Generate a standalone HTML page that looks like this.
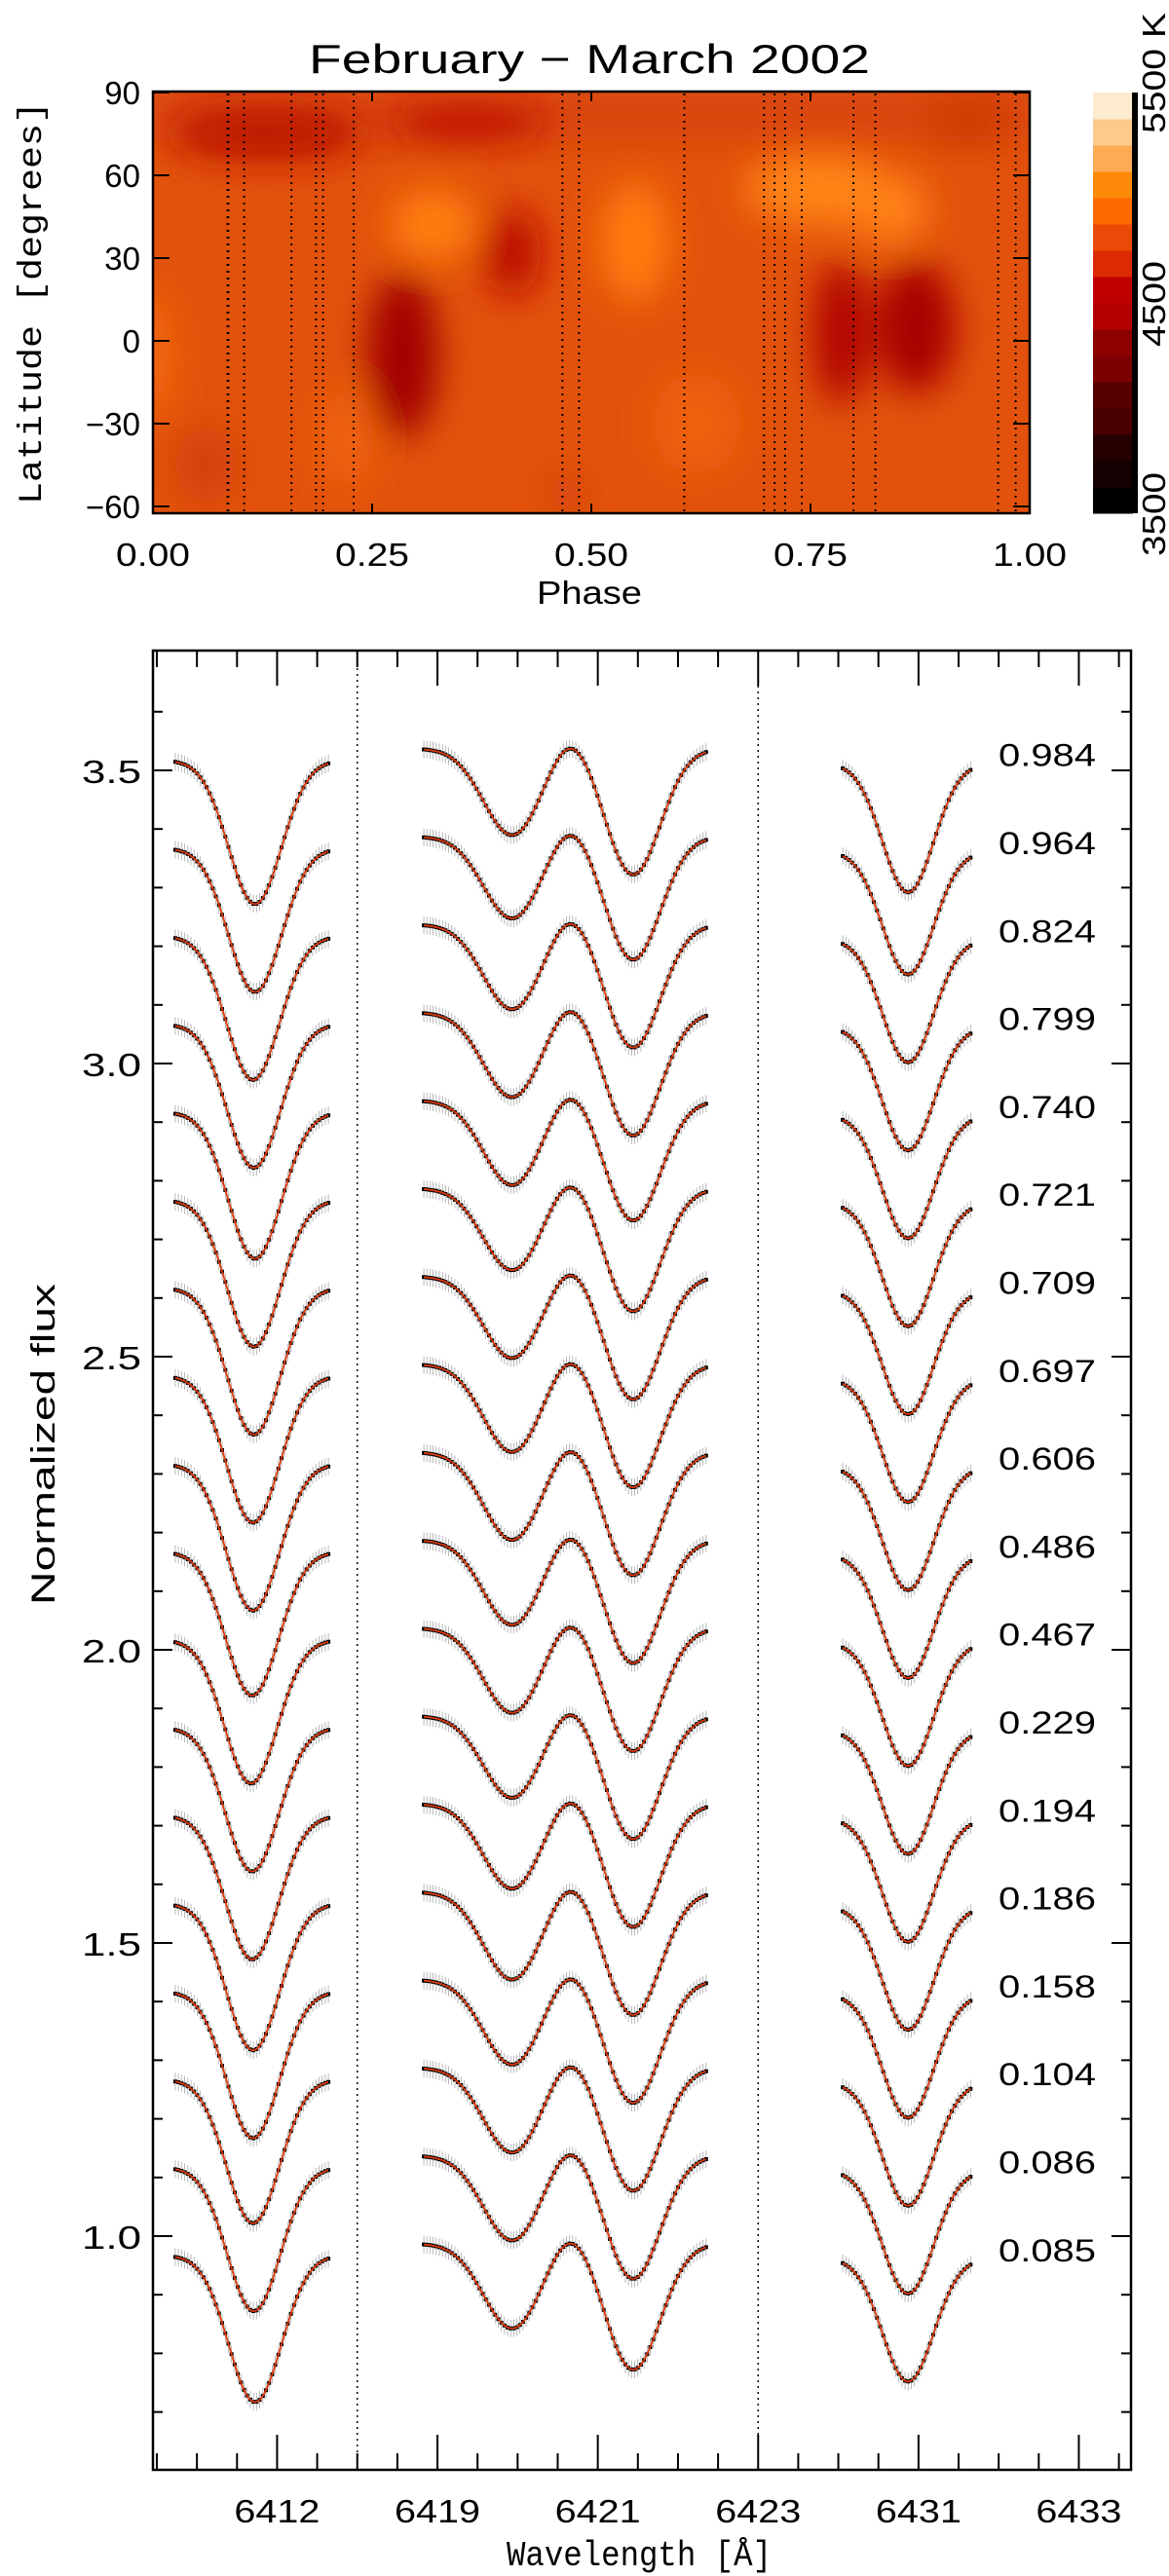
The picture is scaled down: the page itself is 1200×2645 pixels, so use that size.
<!DOCTYPE html>
<html><head><meta charset="utf-8"><style>
html,body{margin:0;padding:0;background:#fff;}
svg{display:block;}
text{font-family:"Liberation Sans",sans-serif;fill:#000;}
.mono{font-family:"Liberation Mono",monospace;}
</style></head><body>
<svg id="fig" width="1200" height="2645" viewBox="0 0 1200 2645" xmlns="http://www.w3.org/2000/svg">
<defs>
<filter id="blur" x="-50%" y="-50%" width="200%" height="200%"><feGaussianBlur stdDeviation="18"/></filter>
<clipPath id="mapclip"><rect x="157" y="94" width="900" height="433"/></clipPath>
</defs>
<g id="map"></g>
<g id="cbar"></g>
<g id="spec"></g>
</svg>
<script>
const NS="http://www.w3.org/2000/svg";
// ---------- map data ----------
const phaseValues=[0.085,0.086,0.104,0.158,0.186,0.194,0.229,0.467,0.486,0.606,0.697,0.709,0.721,0.740,0.799,0.824,0.964,0.984];
const latTicks=[90,60,30,0,-30,-60];
const latTickLabels=["90","60","30","0","\u221230","\u221260"];
const phaseTicks=[0,0.25,0.5,0.75,1];
const phaseTickLabels=["0.00","0.25","0.50","0.75","1.00"];
const spotPhase=[0.13,0.36,0.93,0.285,0.785,0.87,0.41,0.32,0.55,0.76,0.84,0.0,0.06,0.22,0.62,0.47];
const spotLat=[75,79,80,-5,3,5,32,42,36,55,48,-5,-45,-35,-30,-55];
const spotW=[0.11,0.09,0.05,0.04,0.03,0.045,0.033,0.05,0.04,0.085,0.045,0.02,0.035,0.03,0.05,0.02];
const spotH=[10,7,8,30,26,24,16,13,22,13,13,22,14,18,18,8];
const spotColor=["#bd1200","#c01500","#d03a05","#a00000","#ad0600","#a80000","#bb1000","#ff7e10","#ff7c0c","#ff8412","#ff8012","#f66c0a","#d43f08","#f0640c","#f0600a","#d4420a"];
const cbarColors=["#000000","#140000","#240000","#480000","#540000","#7c0000","#8c0000","#b40000","#c00000","#dc2a02","#ea4a08","#fd6a00","#fd8a08","#fdab55","#fdca8a","#fdebd0"];
// ---------- spectra data (bottom to top) ----------
const specLabels=["0.085","0.086","0.104","0.158","0.186","0.194","0.229","0.467","0.486","0.606","0.697","0.709","0.721","0.740","0.799","0.824","0.964","0.984"];
const continuum=[0.967,1.117,1.267,1.417,1.567,1.717,1.867,2.017,2.167,2.317,2.467,2.617,2.767,2.917,3.067,3.217,3.367,3.517];
const depthL=[0.25,0.245,0.245,0.25,0.25,0.245,0.245,0.245,0.245,0.25,0.25,0.25,0.25,0.25,0.245,0.245,0.245,0.245];
const centerL=[2.45,2.42,2.40,2.40,2.40,2.38,2.38,2.35,2.38,2.40,2.40,2.42,2.42,2.45,2.42,2.40,2.45,2.45];
const depthM1=[0.145,0.145,0.145,0.145,0.15,0.145,0.14,0.145,0.145,0.15,0.15,0.14,0.14,0.145,0.145,0.145,0.14,0.148];
const depthM2=[0.215,0.21,0.21,0.21,0.21,0.21,0.21,0.21,0.21,0.21,0.21,0.21,0.21,0.205,0.21,0.21,0.21,0.215];
const depthR=[0.21,0.21,0.21,0.21,0.21,0.21,0.21,0.21,0.21,0.21,0.21,0.21,0.21,0.21,0.21,0.21,0.21,0.22];
const yTickLabels=["1.0","1.5","2.0","2.5","3.0","3.5"];
const yTickValues=[1.0,1.5,2.0,2.5,3.0,3.5];
const xTickLabels=["6412","6419","6421","6423","6431","6433"];
const xTickUnits=[3,7,11,15,19,23];

function el(tag,attrs,parent){const e=document.createElementNS(NS,tag);for(const k in attrs)e.setAttribute(k,attrs[k]);parent.appendChild(e);return e;}
function txt(parent,x,y,s,size,opts){opts=opts||{};const t=el("text",{x:x,y:y,"font-size":size,"text-anchor":opts.anchor||"middle"},parent);
 if(opts.len){t.setAttribute("textLength",opts.len);t.setAttribute("lengthAdjust","spacingAndGlyphs");}
 if(opts.cls)t.setAttribute("class",opts.cls);if(opts.tr)t.setAttribute("transform",opts.tr);t.textContent=s;return t;}

// ---------- MAP ----------
const map=document.getElementById("map");
const mx=p=>157+900*p, my=l=>350-l*2.833;
const mbg=el("g",{"clip-path":"url(#mapclip)"},map);
el("rect",{x:157,y:94,width:900,height:433,fill:"#e2520c"},mbg);
el("rect",{x:157,y:94,width:900,height:50,fill:"#d8440a",filter:"url(#blur)"},mbg);
const sg=el("g",{filter:"url(#blur)"},mbg);
for(let i=0;i<spotPhase.length;i++){
 const e=el("ellipse",{cx:mx(spotPhase[i]),cy:my(spotLat[i]),rx:spotW[i]*900,ry:spotH[i]*2.833,fill:spotColor[i]},sg);
 
 
}
for(const p of phaseValues){
 const l=el("line",{x1:mx(p),x2:mx(p),y1:96,y2:526,stroke:"#000","stroke-width":2,"stroke-dasharray":"2 5"},map);
 
 
}
el("rect",{x:157,y:94,width:900,height:433,fill:"none",stroke:"#000","stroke-width":2.5},map);
for(let i=0;i<latTicks.length;i++){
 const y=my(latTicks[i]);
 el("line",{x1:157,x2:174,y1:y,y2:y,stroke:"#000","stroke-width":2},map);
 el("line",{x1:1040,x2:1057,y1:y,y2:y,stroke:"#000","stroke-width":2},map);
 const t=txt(map,144,y+12,latTickLabels[i],33,{anchor:"end"});
 
 
}
for(let i=0;i<phaseTicks.length;i++){
 const x=mx(phaseTicks[i]);
 el("line",{x1:x,x2:x,y1:94,y2:104,stroke:"#000","stroke-width":2},map);
 el("line",{x1:x,x2:x,y1:517,y2:527,stroke:"#000","stroke-width":2},map);
 const t=txt(map,x,581,phaseTickLabels[i],33,{len:76});
 
 
}
let t=txt(map,605,75,"February \u2212 March 2002",42,{len:576});

t=txt(map,605,620,"Phase",33,{len:108});

t=txt(map,0,0,"Latitude [degrees]",34,{cls:"mono",len:414,tr:"translate(42,311) rotate(-90)"});


// ---------- COLORBAR ----------
const cb=document.getElementById("cbar");
const bh=432/cbarColors.length;
for(let i=0;i<cbarColors.length;i++){
 const r=el("rect",{x:1122,y:527-(i+1)*bh,width:41,height:bh+0.5,fill:cbarColors[i]},cb);
 
 
}
el("rect",{x:1162,y:95,width:6,height:432,fill:"#000"},cb);
t=txt(cb,0,0,"3500",33,{len:86,tr:"translate(1196,528) rotate(-90)"});

t=txt(cb,0,0,"4500",33,{len:88,tr:"translate(1196,312) rotate(-90)"});

t=txt(cb,0,0,"5500 K",33,{len:124,tr:"translate(1196,75) rotate(-90)"});


// ---------- SPECTRA ----------
const sp=document.getElementById("spec");
const X=u=>161+u*41.15, Y=v=>2296-(v-1)*602;
const PL=157,PR=1161,PT=668,PB=2536;
function g(u,c,s){return Math.exp(-0.5*((u-c)/s)**2);}
const segs=[
 {a:0.46,b:4.28,f:(i,u)=>continuum[i]-depthL[i]*g(u,centerL[i],0.66)},
 {a:6.66,b:13.7,f:(i,u)=>continuum[i]+0.02-depthM1[i]*g(u,8.87,0.72)-depthM2[i]*g(u,11.88,0.68)+0.035*g(u,10.3,0.5)},
 {a:17.11,b:20.3,f:(i,u)=>continuum[i]-0.005-depthR[i]*g(u,18.74,0.64)}
];
for(let i=0;i<continuum.length;i++){
 const grp=el("g",{},sp);
 
 
 for(const s of segs){
  let eb="",dots="",line="";
  const n=Math.round((X(s.b)-X(s.a))/3.2);
  for(let k=0;k<=n;k++){
   const u=s.a+(s.b-s.a)*k/n, x=X(u), y=Y(s.f(i,u));
   eb+=`M${x.toFixed(1)} ${(y-9).toFixed(1)}V${(y+9).toFixed(1)}`;
   dots+=`M${(x-2).toFixed(1)} ${y.toFixed(1)}h4`;
  }
  for(let k=0;k<=120;k++){const u=s.a+(s.b-s.a)*k/120;line+=(k?"L":"M")+X(u).toFixed(1)+" "+Y(s.f(i,u)).toFixed(1);}
  el("path",{d:eb,stroke:"#a8a8a8","stroke-width":0.8,fill:"none"},grp);
  el("path",{d:dots,stroke:"#000","stroke-width":4,fill:"none"},grp);
  const fit=el("path",{d:line,stroke:"#dd3a0e","stroke-width":1.8,fill:"none"},grp);
  
  
 }
 const lb=txt(sp,1125,Y(continuum[i]+0.01)+12,specLabels[i],32,{anchor:"end",len:100});
 
 
}
for(const u of [5,15]){
 const l=el("line",{x1:X(u),x2:X(u),y1:PT,y2:PB,stroke:"#000","stroke-width":1.5,"stroke-dasharray":"2 4"},sp);
 
 
}
el("rect",{x:PL,y:PT,width:PR-PL,height:PB-PT,fill:"none",stroke:"#000","stroke-width":2.5},sp);
for(let k=0;k<=24;k++){
 const x=X(k),maj=xTickUnits.includes(k),L=maj?36:17;
 el("line",{x1:x,x2:x,y1:PB,y2:PB-L,stroke:"#000","stroke-width":2},sp);
 el("line",{x1:x,x2:x,y1:PT,y2:PT+L,stroke:"#000","stroke-width":2},sp);
}
for(let i=0;i<xTickLabels.length;i++){
 const tl=txt(sp,X(xTickUnits[i]),2590,xTickLabels[i],33,{len:88});
 
 
}
for(let v=0.7;v<=3.61;v+=0.1){
 const y=Y(v),maj=Math.abs(v*2-Math.round(v*2))<1e-6,L=maj?20:10;
 el("line",{x1:PL,x2:PL+L,y1:y,y2:y,stroke:"#000","stroke-width":2},sp);
 el("line",{x1:PR-L,x2:PR,y1:y,y2:y,stroke:"#000","stroke-width":2},sp);
}
for(let i=0;i<yTickValues.length;i++){
 const tl=txt(sp,145,Y(yTickValues[i])+13,yTickLabels[i],33,{anchor:"end",len:61});
 
 
}
t=txt(sp,656,2634,"Wavelength [\u00c5]",36,{cls:"mono",len:272});

t=txt(sp,0,0,"Normalized flux",34,{len:330,tr:"translate(56,1483) rotate(-90)"});

</script>
</body></html>
